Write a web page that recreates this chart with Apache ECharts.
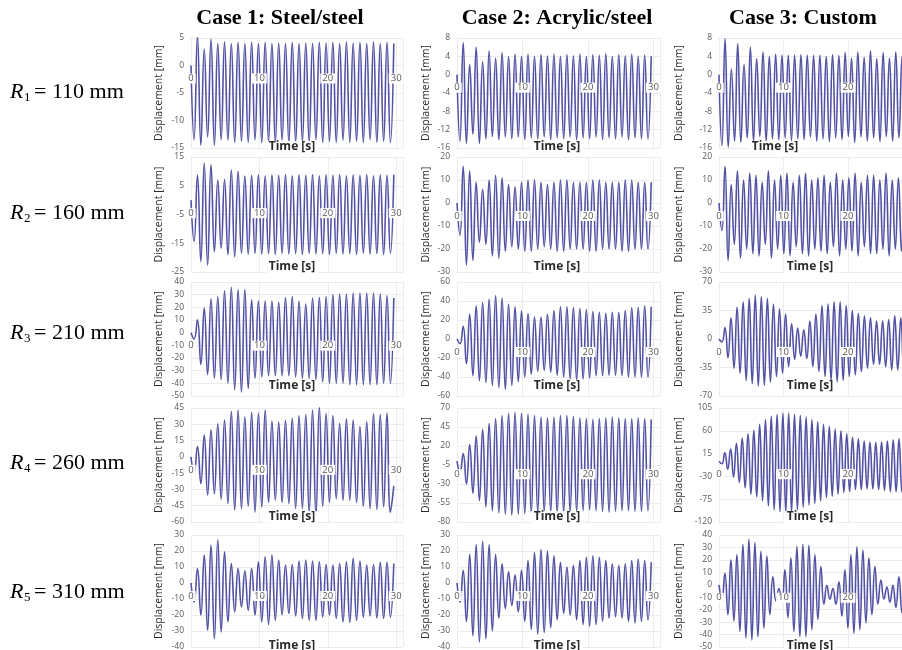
<!DOCTYPE html>
<html>
<head>
<meta charset="utf-8">
<script src="https://cdn.jsdelivr.net/npm/echarts@6/dist/echarts.min.js"></script>
<style>
  html, body { margin: 0; padding: 0; background: #fff; }
  #chart { width: 902px; height: 650px; }
</style>
</head>
<body>
<div id="chart"></div>
<script>
// ---- labels ----
const caseTitles = ['Case 1: Steel/steel', 'Case 2: Acrylic/steel', 'Case 3: Custom'];
const radiusSubscripts = ['1', '2', '3', '4', '5'];
const radiusValues = ['110 mm', '160 mm', '210 mm', '260 mm', '310 mm'];
const timeAxisName = 'Time [s]';
const dispAxisName = 'Displacement [mm]';

// ---- y-axis scales, row by row (R1..R5), columns Case 1..3 ----
const yMins  = [-15, -16, -16,  -25, -30, -30,  -50, -60, -70,  -60, -80, -120,  -40, -40, -50];
const yMaxs  = [  5,   8,   8,   15,  20,  20,   40,  60,  70,   45,  70,  105,   30,  30,  40];
const ySteps = [  5,   4,   4,   10,  10,  10,   10,  20,  35,   15,  25,   45,   10,  10,  10];
const xTickLabels = [0, 10, 20, 30];

// ---- oscillation period [s] of each response and time of its first trough ----
const periods = [0.99, 0.99, 0.98,  0.99, 0.99, 0.96,  0.99, 0.99, 0.94,  0.99, 0.99, 0.90,  0.99, 0.99, 0.93];
const firstTroughTime = 0.45;
const startValue = 0;

// ---- cycle-by-cycle extremes [mm] ----
// R1 = 110 mm
const r1c1Troughs = [-13.5,-14.5,-13,-14.5,-13.5,-13.6,-14,-13.8,-14,-13.5,-14,-13.8,-14,-13.6,-14,-14,-13.8,-14,-13.5,-14,-13.8,-14,-13.6,-14,-13.8,-14,-13.5,-14,-13.8,-14];
const r1c1Peaks   = [5.5,3,4.8,4,4.3,4,4.2,4,4.2,4,4.2,4,4.1,4,4.2,4,4.1,4,4.2,4.1,4.2,4,4.3,4.1,4.2,4,4.3,4,4.2,4];
const r1c2Troughs = [-14.5,-15,-13,-15,-14,-13.5,-14.2,-13.6,-14,-13.6,-14.2,-13.8,-14,-13.6,-14.2,-13.8,-14,-13.6,-14.2,-13.8,-14,-13.6,-14.2,-13.8,-14,-13.6,-14.2,-13.8,-14,-14];
const r1c2Peaks   = [7,2.2,6,2.8,5.2,3.6,4.8,4,4.5,4,4.5,4,4.4,4.1,4.5,4,4.4,4.1,4.5,4,4.4,4.2,4.6,4,4.4,4.1,4.5,4,4.3,4];
const r1c3Troughs = [-15.5,-15.8,-14.5,-14.8,-13.8,-14.5,-13.5,-14.5,-14,-14.2,-13.8,-14.4,-14,-14.2,-13.6,-14.5,-14,-14.6,-13.8,-14.2,-13.5,-14.8,-13.6,-14.5,-13.8,-14.6,-13.5,-14.5,-13.8,-14.4,-14];
const r1c3Peaks   = [7.8,1.2,6.8,2.2,6,3.5,5,4,4.5,4.3,4.3,4.3,4.4,4.3,4.2,4.3,4,4.4,4.2,4.8,3.6,5,3.8,5.2,3.5,4.8,3.6,5,4,4.6,4.2];
// R2 = 160 mm
const r2c1Troughs = [-14.3,-21.4,-22.6,-17.9,-16.7,-19,-19.7,-18.5,-18.8,-18.5,-18.8,-18.6,-18.9,-18.5,-18.8,-18.6,-18.9,-18.5,-18.8,-18.6,-18.9,-18.5,-18.8,-18.6,-18.9,-18.5,-18.8,-18.6,-18.9,-18.5];
const r2c1Peaks   = [8.7,12.9,12.3,7,7.2,10.5,10,8.4,8.6,8.8,8.5,8.8,8.6,8.9,8.5,8.8,8.6,8.9,8.5,8.8,8.6,8.9,8.5,8.8,8.6,8.9,8.5,8.8,8.6,8.8];
const r2c2Troughs = [-14,-27,-25,-17,-18,-23,-24,-21,-19,-20,-21,-21,-20,-19,-20,-21,-21,-20,-20,-20,-21,-21,-20,-20,-20,-21,-21,-20,-20,-20];
const r2c2Peaks   = [16,14,9,6,10,12,11,8,7,9,10,10,9,8,9,10,10,9,9,9,10,10,9,9,9,10,10,9,9,9];
const r2c3Troughs = [-12,-25,-18,-24,-20,-22,-23,-18,-24,-20,-22,-23,-19,-22,-23,-20,-21,-22,-19,-23,-20,-21,-23,-19,-22,-22,-20,-23,-20,-21,-22];
const r2c3Peaks   = [16,8,14,10,13,12,9,14,10,12,13,9,12,13,10,11,12,9,13,10,11,13,9,12,12,10,13,10,11,12,11];
// R3 = 210 mm
const r3c1Troughs = [-5,-25,-33,-36,-37,-40,-45,-47,-44,-36,-35,-34,-34,-34,-34,-35,-36,-36,-37,-39,-40,-40,-40,-41,-41,-41,-41,-41,-40,-40];
const r3c1Peaks   = [10.1,19.4,26.8,28.6,33,35.8,34,34,26,25,25,25,24,27.8,28.6,24.7,22.5,27.3,28,28.6,30,30.5,30.5,31.3,31.3,31.3,31.3,30.5,29.4,27.3];
const r3c2Troughs = [-5,-26,-38.6,-44,-45.7,-49,-51,-53,-49,-45,-40,-37,-34,-33,-35,-38,-40,-42,-43,-42,-41,-38.6,-38.6,-38,-38,-38.6,-40,-40,-40,-40];
const r3c2Peaks   = [13.4,26,35,38.5,42,45.7,43,36.7,34,29.5,26.7,23,23,26,30,34,34,33,32,31,29,28,27,28,28,30,33,33,35,34];
const r3c3Troughs = [-3.6,-23,-36,-42,-51,-55,-58,-57,-53,-46,-42,-34,-25,-21,-24,-34,-40,-46,-51,-53,-51,-46,-44,-40,-36,-31,-31,-34,-38,-38,-40];
const r3c3Peaks   = [14,26,39,45.6,50,54,52,50,43,37,30.6,18.6,13.5,11.4,22,30.6,41,43,45.6,45.6,41,35,31.5,28.5,26,22,22,24,28.5,26,28];
// R4 = 260 mm
const r4c1Troughs = [-15,-24.5,-35,-34,-39,-43,-49,-47.6,-45.5,-51,-46.5,-42,-40,-42,-43,-47.6,-47.6,-51,-54,-45.5,-42,-38.6,-40,-40,-42,-45.5,-47.6,-48.5,-46,-51];
const r4c1Peaks   = [9.5,20,25,30.5,34,42,43,37,41,40.4,43,33,32,33.6,35.7,38,39,43,46,40,38,31,35,34,28,32.6,40,39,40.4,-27];
const r4c2Troughs = [-15,-30,-42,-52,-60,-65,-68,-70,-71,-70,-69,-68,-67,-66,-67,-68,-68,-67,-66,-65,-64,-65,-66,-67,-66,-65,-65,-66,-66,-65];
const r4c2Peaks   = [10,22,33,42,50,56,60,63,64,63,62,60,58,57,58,60,60,59,57,56,55,56,57,58,57,56,56,57,56,55];
const r4c3Troughs = [-5,-16,-31,-41.6,-52.5,-65,-70.6,-78,-89,-96,-99.6,-101,-99.6,-96,-91,-86.6,-83.7,-78,-72,-69,-65,-62,-60,-56,-56,-54.6,-54.6,-56,-57.5,-60,-60,-61];
const r4c3Peaks   = [16.5,24,35,45.5,54,61,73,82,89,92.7,95,95,92.7,90.5,87.6,82,78,73,68.7,63.6,60,54,47,44,40,38,37,38,40,42,44,45];
// R5 = 310 mm
const r5c1Troughs = [-11.8,-20,-29.5,-34.8,-30.6,-24.3,-18,-15,-17,-20,-24.3,-26,-23.3,-19.8,-19,-20.6,-22.2,-23.3,-23.3,-21.3,-20,-22.2,-24.3,-24.7,-23.3,-21.3,-20.6,-21.8,-22.2,-21.3];
const r5c1Peaks   = [9,17.5,23.7,27,19.5,12.2,9,7.4,9,13.3,16.4,17.5,14.3,11.2,11.6,13.7,14.3,13.7,13.3,11.6,11.2,12.2,13.3,15.4,13.7,11.2,11.6,12.9,12.9,12.2];
const r5c2Troughs = [-12,-24,-33,-37,-35,-30,-22,-16,-14,-18,-24,-29,-32,-31,-28,-23,-19,-20,-23,-26,-27,-26,-24,-22,-21,-22,-24,-25,-24,-23];
const r5c2Peaks   = [8,18,24,26,24,18,12,7,5,8,14,19,21,20,17,13,10,11,14,16,17,16,14,12,11,12,14,15,14,13];
const r5c3Troughs = [-11.5,-24,-29,-37.6,-43,-44.5,-41.8,-34.8,-24,-12.9,-14,-26.4,-37.6,-41.8,-41.8,-36,-27.8,-15.6,-11.5,-15.6,-25,-34.8,-39,-36,-30.6,-24,-15.6,-11.5,-14,-18.2,-22.3,-26];
const r5c3Peaks   = [9.2,20,24.3,32.6,36.7,34,27,23,6.4,-3,12,21.6,31,32.6,32,24.3,14.7,-0.5,-3,2.3,12,24.3,30.6,28,21.6,14.7,3.7,-1.8,-0.5,6.4,12,18];

const panelTroughs = [r1c1Troughs, r1c2Troughs, r1c3Troughs, r2c1Troughs, r2c2Troughs, r2c3Troughs,
                      r3c1Troughs, r3c2Troughs, r3c3Troughs, r4c1Troughs, r4c2Troughs, r4c3Troughs,
                      r5c1Troughs, r5c2Troughs, r5c3Troughs];
const panelPeaks = [r1c1Peaks, r1c2Peaks, r1c3Peaks, r2c1Peaks, r2c2Peaks, r2c3Peaks,
                    r3c1Peaks, r3c2Peaks, r3c3Peaks, r4c1Peaks, r4c2Peaks, r4c3Peaks,
                    r5c1Peaks, r5c2Peaks, r5c3Peaks];

// ---- page layout ----
const colLefts  = [191, 457, 719];
const colWidths = [212, 203, 200];
const rowTops    = [38, 157, 282, 408, 535];
const rowHeights = [110, 115, 114, 114, 112];
const colTitleX = [280, 557, 803];
const timeNameX = [292, 557, 810];
const timeNameY = [147, 267, 386, 517, 646];
const rowLabelY = [92, 213, 333, 463, 592];
const dispNameGap = [26, 25, 34];
const PANELS = 15;

const LINE_COLOR = '#5252a4';
const SANS = '"Open Sans", "Liberation Sans", sans-serif';
const SERIF = '"Liberation Serif", "DejaVu Serif", serif';

// one point per trough and per peak, starting from rest
function buildTrace(troughs, peaks, period) {
  const pts = [[0, startValue]];
  troughs.forEach((v, i) => {
    pts.push([firstTroughTime + i * period, v]);
    if (i < peaks.length) pts.push([firstTroughTime + (i + 0.5) * period, peaks[i]]);
  });
  return pts;
}

const grids = [], gridXAxes = [], labelXAxes = [], yAxes = [], series = [];
for (let r = 0; r < 5; r++) {
  for (let c = 0; c < 3; c++) {
    const k = r * 3 + c;
    grids.push({ left: colLefts[c], top: rowTops[r], width: colWidths[c], height: rowHeights[r],
                 outerBoundsMode: 'none', containLabel: false });
    // time axis carrying the faint vertical grid, drawn beneath the traces
    gridXAxes.push({
      gridIndex: k, type: 'value', min: 0, max: 31, interval: 10, z: 0,
      axisLine: { show: false, onZero: false }, axisTick: { show: false }, axisLabel: { show: false },
      splitLine: { show: true, lineStyle: { color: '#ececec', width: 1 } }
    });
    // twin time axis carrying the tick labels, drawn over the traces at zero displacement
    labelXAxes.push({
      gridIndex: k, type: 'value', min: 0, max: 31, interval: 10, position: 'bottom', offset: 0, z: 10,
      axisLine: { show: false, onZero: false }, axisTick: { show: false }, splitLine: { show: false },
      axisLabel: {
        fontSize: 9.5, fontFamily: SANS, color: '#595959', margin: 8,
        backgroundColor: '#ffffff', padding: [0, 2],
        formatter: v => (xTickLabels.indexOf(v) >= 0 ? String(v) : '')
      }
    });
    yAxes.push({
      gridIndex: k, type: 'value', min: yMins[k], max: yMaxs[k], interval: ySteps[k],
      axisLine: { show: false }, axisTick: { show: false },
      axisLabel: { fontSize: 8.5, fontFamily: SANS, color: '#595959', margin: 7 },
      splitLine: { show: true, lineStyle: { color: '#ececec', width: 1 } },
      name: dispAxisName, nameLocation: 'middle', nameGap: dispNameGap[c],
      nameTextStyle: { fontSize: 10.5, fontFamily: SANS, color: '#2b2b2b' }
    });
    series.push({
      type: 'line', xAxisIndex: k, yAxisIndex: k,
      data: buildTrace(panelTroughs[k], panelPeaks[k], periods[k]),
      showSymbol: false, smooth: 0.5, clip: true,
      lineStyle: { color: LINE_COLOR, width: 1.6 },
      silent: true, animation: false, z: 2
    });
  }
}
const xAxes = gridXAxes.concat(labelXAxes);

const graphic = [];
caseTitles.forEach((t, c) => {
  graphic.push({ type: 'text', z: 100, x: colTitleX[c], y: 18,
    style: { text: t, fill: '#000', font: 'bold 22px ' + SERIF, align: 'center', verticalAlign: 'middle' } });
});
for (let r = 0; r < 5; r++) {
  const y = rowLabelY[r];
  graphic.push({ type: 'text', z: 100, x: 10, y: y,
    style: { text: 'R', fill: '#000', font: 'italic 22px ' + SERIF, align: 'left', verticalAlign: 'middle' } });
  graphic.push({ type: 'text', z: 100, x: 24, y: y + 6,
    style: { text: radiusSubscripts[r], fill: '#000', font: '13px ' + SERIF, align: 'left', verticalAlign: 'middle' } });
  graphic.push({ type: 'text', z: 100, x: 34, y: y,
    style: { text: '= ' + radiusValues[r], fill: '#000', font: '22px ' + SERIF, align: 'left', verticalAlign: 'middle' } });
  for (let c = 0; c < 3; c++) {
    const x = (r === 0 && c === 2) ? 775 : timeNameX[c];
    graphic.push({ type: 'text', z: 100, x: x, y: timeNameY[r],
      style: { text: timeAxisName, fill: '#2b2b2b', font: 'bold 12px ' + SANS, align: 'center', verticalAlign: 'middle',
               backgroundColor: 'rgba(255,255,255,0.9)', padding: [0, 3] } });
  }
}

const chart = echarts.init(document.getElementById('chart'), null, { renderer: 'canvas' });
chart.setOption({
  backgroundColor: '#ffffff',
  animation: false,
  grid: grids, xAxis: xAxes, yAxis: yAxes, series: series,
  graphic: graphic
});

// lift each labelled time axis to the zero displacement level of its panel
const axisOffsets = xAxes.map((ax, i) => {
  if (i < PANELS) return {};
  const k = i - PANELS;
  const r = Math.floor(k / 3);
  const zeroY = chart.convertToPixel({ yAxisIndex: k }, 0);
  return { offset: zeroY - (rowTops[r] + rowHeights[r]) };
});
chart.setOption({ xAxis: axisOffsets });
</script>
</body>
</html>
